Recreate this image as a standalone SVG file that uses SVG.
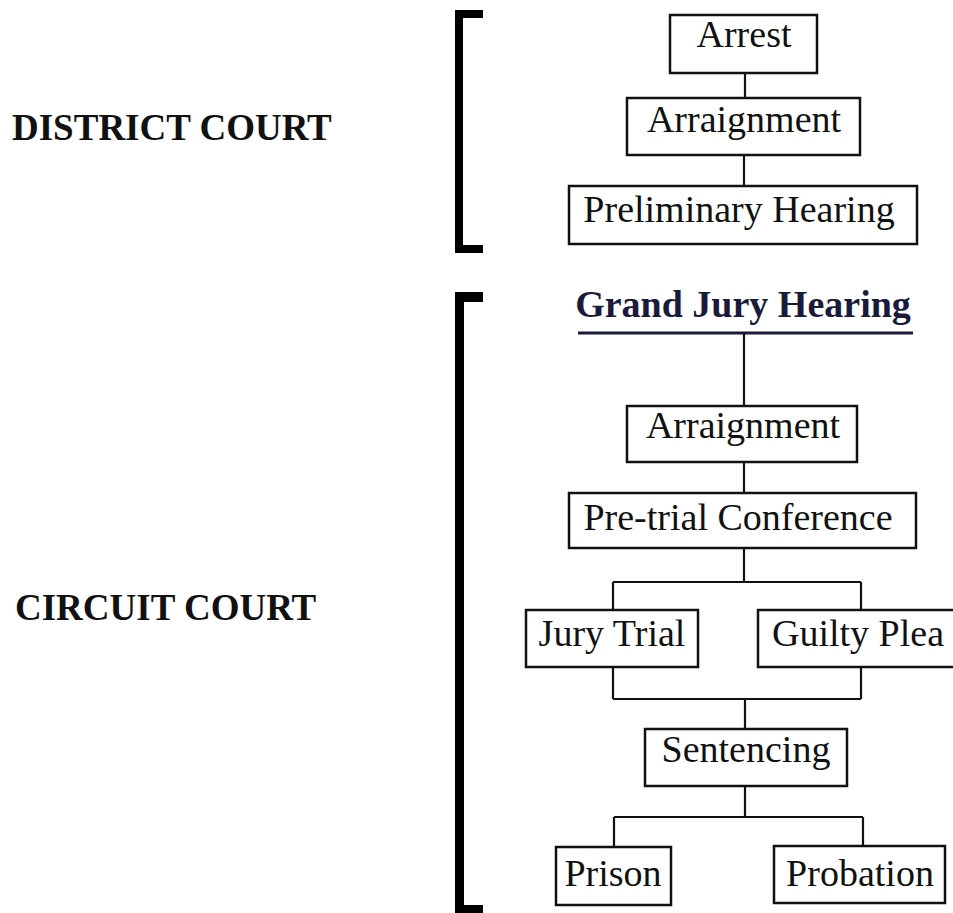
<svg xmlns="http://www.w3.org/2000/svg" width="953" height="913" viewBox="0 0 953 913">
<style>
.box{fill:#fff;stroke:#111;stroke-width:2.5}
.t{font-family:"Liberation Serif","Times New Roman",serif;font-size:38px;fill:#111;text-anchor:middle}
.lab{font-family:"Liberation Serif","Times New Roman",serif;font-size:37px;font-weight:bold;fill:#111}
.c{fill:none;stroke:#111;stroke-width:2.2}
.br{fill:#000}
</style>
<rect width="953" height="913" fill="#fff"/>
<g id="district-label"><text class="lab" x="12" y="140">DISTRICT COURT</text></g>
<g id="circuit-label"><text class="lab" x="15" y="620">CIRCUIT COURT</text></g>
<g id="district-bracket">
<rect class="br" x="455" y="10" width="8" height="243"/>
<rect class="br" x="455" y="10" width="28" height="8"/>
<rect class="br" x="455" y="245" width="28" height="8"/>
</g>
<g id="circuit-bracket">
<rect class="br" x="455" y="292" width="9" height="621"/>
<rect class="br" x="455" y="292" width="28" height="10"/>
<rect class="br" x="455" y="905" width="28" height="8"/>
</g>
<g id="connectors">
<path class="c" d="M745 73V98M744 155V186"/>
<path d="M578 333H913" stroke="#1a1a3a" stroke-width="2.8"/>
<path class="c" d="M744 333V406M744 462V493M744 548V582M613 582H861M613 582V610M861 582V610"/>
<path class="c" d="M613 667V699M861 667V699M613 699H861M745 699V729M745 786V817M614 817H863M614 817V847M863 817V846"/>
</g>
<g id="arrest"><rect class="box" x="670" y="15" width="147" height="58"/><text class="t" x="744" y="47">Arrest</text></g>
<g id="arraignment1"><rect class="box" x="627" y="98" width="233" height="57"/><text class="t" x="744" y="132">Arraignment</text></g>
<g id="preliminary"><rect class="box" x="569" y="186" width="348" height="58"/><text class="t" x="739" y="222">Preliminary Hearing</text></g>
<g id="grand-jury"><text x="743" y="317" font-family="'Liberation Serif','Times New Roman',serif" font-size="38" font-weight="bold" fill="#1a1a3a" text-anchor="middle">Grand Jury Hearing</text></g>
<g id="arraignment2"><rect class="box" x="627" y="406" width="230" height="56"/><text class="t" x="743" y="438">Arraignment</text></g>
<g id="pretrial"><rect class="box" x="569" y="493" width="347" height="55"/><text class="t" x="738" y="530">Pre-trial Conference</text></g>
<g id="jury-trial"><rect class="box" x="526" y="610" width="172" height="57"/><text class="t" x="612" y="646">Jury Trial</text></g>
<g id="guilty-plea"><rect class="box" x="758" y="610" width="200" height="57"/><text class="t" x="858" y="646">Guilty Plea</text></g>
<g id="sentencing"><rect class="box" x="645" y="729" width="202" height="57"/><text class="t" x="746" y="762">Sentencing</text></g>
<g id="prison"><rect class="box" x="556" y="847" width="115" height="58"/><text class="t" x="613" y="886">Prison</text></g>
<g id="probation"><rect class="box" x="774" y="846" width="171" height="57"/><text class="t" x="860" y="886">Probation</text></g>
</svg>
